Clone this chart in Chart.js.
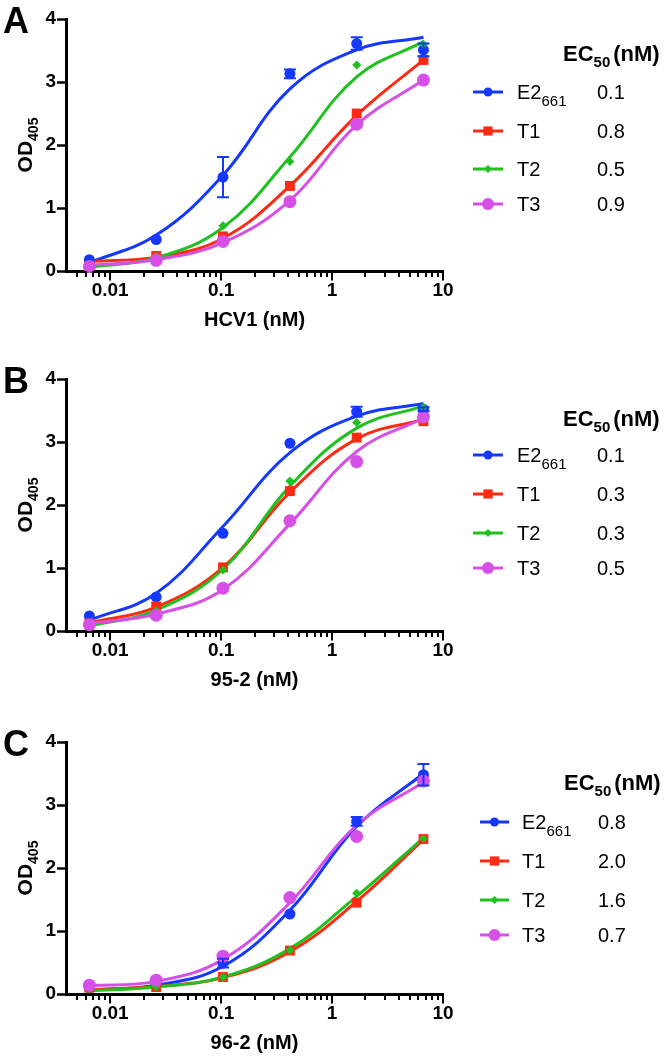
<!DOCTYPE html>
<html>
<head>
<meta charset="utf-8">
<script src="https://cdn.jsdelivr.net/npm/chart.js@4.4.1/dist/chart.umd.min.js"></script>
<style>
body { margin: 0; background: #fff; width: 666px; height: 1059px; position: relative; overflow: hidden; }
canvas { position: absolute; left: 0; }
</style>
</head>
<body>
<canvas id="chartA" width="666" height="336" style="top:0px"></canvas>
<canvas id="chartB" width="666" height="336" style="top:360px"></canvas>
<canvas id="chartC" width="666" height="336" style="top:723px"></canvas>
<script>
// DATA
const doses = [0.0065, 0.026, 0.104, 0.417, 1.667, 6.667];
const seriesNames = ['E2', 'T1', 'T2', 'T3'];
const xMajor = [0.01, 0.1, 1, 10];
const xTickLabels = ['0.01', '0.1', '1', '10'];
const yTicks = [0, 1, 2, 3, 4];

// A - HCV1
const aE2 = [0.18, 0.50, 1.49, 3.13, 3.61, 3.51];
const aE2Err = [0, 0, 0.32, 0.07, 0.10, 0.10];
const aT1 = [0.08, 0.24, 0.55, 1.35, 2.50, 3.35];
const aT2 = [0.08, 0.23, 0.72, 1.74, 3.27, 3.60];
const aT3 = [0.07, 0.17, 0.47, 1.10, 2.33, 3.03];
const aE2Fit = [0.13, 0.57, 1.52, 2.89, 3.51, 3.71];
const aT1Fit = [0.15, 0.22, 0.52, 1.35, 2.47, 3.35];
const aT2Fit = [0.06, 0.21, 0.69, 1.81, 3.08, 3.64];
const aT3Fit = [0.09, 0.18, 0.45, 1.12, 2.32, 3.03];
const aEC50 = ['0.1', '0.8', '0.5', '0.9'];

// B - 95-2
const bE2 = [0.24, 0.54, 1.55, 2.98, 3.48, 3.52];
const bE2Err = [0, 0, 0, 0, 0.08, 0.03];
const bT1 = [0.12, 0.39, 1.01, 2.22, 3.07, 3.33];
const bT2 = [0.10, 0.32, 0.97, 2.38, 3.31, 3.55];
const bT3 = [0.10, 0.25, 0.68, 1.75, 2.69, 3.40];
const bE2Fit = [0.17, 0.60, 1.66, 2.83, 3.41, 3.61];
const bT1Fit = [0.13, 0.38, 1.01, 2.20, 3.05, 3.36];
const bT2Fit = [0.08, 0.33, 0.98, 2.30, 3.22, 3.57];
const bT3Fit = [0.12, 0.27, 0.66, 1.70, 2.85, 3.38];
const bEC50 = ['0.1', '0.3', '0.3', '0.5'];

// C - 96-2
const cE2 = [0.10, 0.17, 0.49, 1.27, 2.74, 3.48];
const cE2Err = [0, 0, 0.07, 0, 0.07, 0.17];
const cT1 = [0.10, 0.11, 0.27, 0.69, 1.45, 2.46];
const cT2 = [0.08, 0.12, 0.27, 0.70, 1.60, 2.47];
const cT3 = [0.14, 0.22, 0.60, 1.53, 2.50, 3.38];
const cE2Fit = [0.06, 0.14, 0.44, 1.33, 2.66, 3.50];
const cT1Fit = [0.07, 0.12, 0.26, 0.67, 1.47, 2.45];
const cT2Fit = [0.05, 0.11, 0.27, 0.72, 1.55, 2.48];
const cT3Fit = [0.13, 0.20, 0.55, 1.45, 2.68, 3.36];
const cEC50 = ['0.8', '2.0', '1.6', '0.7'];


// STYLE
const FONT = '"Liberation Sans", Arial, Helvetica, sans-serif';
const colors = ['#1438ff', '#ff2a14', '#1fc01f', '#d64fe6'];
const markers = [
    { style: 'circle', r: 5.5 },
    { style: 'rect', r: 7 },
    { style: 'rectRot', r: 4.5 },
    { style: 'circle', r: 6.5 }
];
const legendMarkers = [4.5, 6.5, 4, 6];

// minor + major ticks for the log axis
function buildXTicks() {
    const t = [];
    for (let k = -3; k <= 1; k++) {
        for (let m = 1; m <= 9; m++) {
            const v = +(m * Math.pow(10, k)).toPrecision(6);
            if (v >= 0.005 && v <= 10) t.push(v);
        }
    }
    return t;
}
const xTicks = buildXTicks();

function drawMarker(ctx, style, r, x, y) {
    ctx.beginPath();
    if (style === 'circle') {
        ctx.arc(x, y, r, 0, Math.PI * 2);
    } else if (style === 'rect') {
        const s = r * Math.SQRT1_2;
        ctx.rect(x - s, y - s, 2 * s, 2 * s);
    } else {
        ctx.moveTo(x, y - r); ctx.lineTo(x + r, y); ctx.lineTo(x, y + r); ctx.lineTo(x - r, y);
        ctx.closePath();
    }
    ctx.fill();
}

// text with a subscript, returns width
function subText(ctx, x, y, main, sub, font, subFont, dy) {
    ctx.font = font;
    ctx.fillText(main, x, y);
    const w = ctx.measureText(main).width;
    ctx.font = subFont;
    ctx.fillText(sub, x + w, y + dy);
    return w + ctx.measureText(sub).width;
}

// PLUGIN: error bars, x ticks, titles, legend
const panelDecor = {
    id: 'panelDecor',
    afterDatasetsDraw(chart) {
        const ctx = chart.ctx, x = chart.scales.x, y = chart.scales.y;
        chart.data.datasets.forEach(ds => {
            if (!ds.errors) return;
            ctx.save();
            ctx.strokeStyle = ds.borderColor;
            ctx.lineWidth = 2;
            ds.data.forEach((p, j) => {
                const e = ds.errors[j];
                if (!e) return;
                const px = x.getPixelForValue(p.x);
                const top = y.getPixelForValue(p.y + e);
                const bot = y.getPixelForValue(p.y - e);
                ctx.beginPath();
                ctx.moveTo(px, top); ctx.lineTo(px, bot);
                ctx.moveTo(px - 6, top); ctx.lineTo(px + 6, top);
                ctx.moveTo(px - 6, bot); ctx.lineTo(px + 6, bot);
                ctx.stroke();
            });
            ctx.restore();
        });
    },
    afterDraw(chart, args, opts) {
        const ctx = chart.ctx, x = chart.scales.x, area = chart.chartArea;
        ctx.save();
        // x tick marks
        ctx.strokeStyle = '#000';
        ctx.lineWidth = 2;
        x.ticks.forEach(t => {
            const px = Math.round(x.getPixelForValue(t.value));
            const len = xMajor.includes(t.value) ? 8 : 4.5;
            ctx.beginPath();
            ctx.moveTo(px, area.bottom);
            ctx.lineTo(px, area.bottom + 1.5 + len);
            ctx.stroke();
        });
        ctx.fillStyle = '#000';
        // x title
        ctx.textAlign = 'center';
        ctx.textBaseline = 'alphabetic';
        ctx.font = 'bold 20px ' + FONT;
        ctx.fillText(opts.xTitle, (area.left + area.right) / 2, area.bottom + 55);
        // y title OD405
        ctx.save();
        ctx.translate(25, (area.top + area.bottom) / 2);
        ctx.rotate(-Math.PI / 2);
        ctx.textAlign = 'left';
        ctx.font = 'bold 21px ' + FONT;
        const w1 = ctx.measureText('OD').width;
        ctx.font = 'bold 14px ' + FONT;
        const w2 = ctx.measureText('405').width;
        subText(ctx, -(w1 + w2) / 2, 7, 'OD', '405', 'bold 21px ' + FONT, 'bold 14px ' + FONT, 6);
        ctx.restore();
        // panel letter
        ctx.textAlign = 'left';
        ctx.font = 'bold 36px ' + FONT;
        ctx.fillText(opts.letter, 3, area.top + 14);
        // legend header
        const L = opts.legend;
        const hw = subText(ctx, L.headerX, L.headerY + 8, 'EC', '50', 'bold 22px ' + FONT, 'bold 15px ' + FONT, 6);
        ctx.font = 'bold 22px ' + FONT;
        ctx.fillText('(nM)', L.headerX + hw + 3, L.headerY + 8);
        // legend rows
        seriesNames.forEach((name, i) => {
            const ry = L.rows[i];
            ctx.strokeStyle = colors[i];
            ctx.fillStyle = colors[i];
            ctx.lineWidth = 3;
            ctx.beginPath();
            ctx.moveTo(L.x0, ry); ctx.lineTo(L.x1, ry);
            ctx.stroke();
            drawMarker(ctx, markers[i].style, legendMarkers[i], (L.x0 + L.x1) / 2, ry);
            ctx.fillStyle = '#000';
            if (name === 'E2') {
                subText(ctx, L.textX, ry + 7, 'E2', '661', '20px ' + FONT, '15px ' + FONT, 7);
            } else {
                ctx.font = '20px ' + FONT;
                ctx.fillText(name, L.textX, ry + 7);
            }
            ctx.font = '20px ' + FONT;
            ctx.fillText(opts.ec50[i], L.valX, ry + 7);
        });
        ctx.restore();
    }
};

function buildPanel(id, pts, fits, errs, ec50, xTitle, letter, legend) {
    const datasets = [];
    pts.forEach((vals, i) => {
        datasets.push({
            label: seriesNames[i] + ' data',
            data: doses.map((d, j) => ({ x: d, y: vals[j] })),
            showLine: false,
            pointStyle: markers[i].style,
            pointRadius: markers[i].r,
            pointBackgroundColor: colors[i],
            pointBorderColor: colors[i],
            pointBorderWidth: 0,
            borderColor: colors[i],
            errors: i === 0 ? errs : null,
            order: 3 - i,
            clip: false
        });
    });
    fits.forEach((vals, i) => {
        datasets.push({
            label: seriesNames[i] + ' fit',
            data: doses.map((d, j) => ({ x: d, y: vals[j] })),
            borderColor: colors[i],
            borderWidth: 3,
            pointRadius: 0,
            tension: 0.4,
            fill: false,
            order: 13 - i,
            clip: false
        });
    });
    return new Chart(document.getElementById(id), {
        type: 'line',
        data: { datasets: datasets },
        options: {
            responsive: false,
            animation: false,
            events: [],
            layout: { padding: { left: 0, top: 19, right: 223, bottom: 0 } },
            plugins: {
                legend: { display: false },
                tooltip: { enabled: false },
                panelDecor: { xTitle: xTitle, letter: letter, legend: legend, ec50: ec50 }
            },
            scales: {
                x: {
                    type: 'logarithmic',
                    min: 0.004,
                    max: 10,
                    afterBuildTicks: s => { s.ticks = xTicks.map(v => ({ value: v })); },
                    afterFit: s => { s.height = 65; },
                    grid: { display: true, drawOnChartArea: false, drawTicks: true, tickLength: 8, tickColor: 'rgba(0,0,0,0)' },
                    border: { display: true, color: '#000', width: 3 },
                    ticks: {
                        autoSkip: false,
                        maxRotation: 0,
                        padding: 0,
                        color: '#000',
                        font: { family: FONT, size: 19, weight: 'bold' },
                        callback: v => {
                            const k = xMajor.indexOf(v);
                            return k >= 0 ? xTickLabels[k] : '';
                        }
                    }
                },
                y: {
                    min: 0,
                    max: 4,
                    afterBuildTicks: s => { s.ticks = yTicks.map(v => ({ value: v })); },
                    afterFit: s => { s.width = 66; },
                    grid: { display: true, drawOnChartArea: false, drawTicks: true, tickLength: 9, tickWidth: 2.5, tickColor: '#000' },
                    border: { display: true, color: '#000', width: 3 },
                    ticks: {
                        padding: 1,
                        color: '#000',
                        font: { family: FONT, size: 19, weight: 'bold' }
                    }
                }
            }
        },
        plugins: [panelDecor]
    });
}

buildPanel('chartA', [aE2, aT1, aT2, aT3], [aE2Fit, aT1Fit, aT2Fit, aT3Fit], aE2Err, aEC50, 'HCV1 (nM)', 'A',
    { headerX: 563, headerY: 53, rows: [92, 131, 169, 204], x0: 473, x1: 503, textX: 517, valX: 597 });
buildPanel('chartB', [bE2, bT1, bT2, bT3], [bE2Fit, bT1Fit, bT2Fit, bT3Fit], bE2Err, bEC50, '95-2 (nM)', 'B',
    { headerX: 563, headerY: 58, rows: [95, 134, 173, 208], x0: 473, x1: 503, textX: 517, valX: 597 });
buildPanel('chartC', [cE2, cT1, cT2, cT3], [cE2Fit, cT1Fit, cT2Fit, cT3Fit], cE2Err, cEC50, '96-2 (nM)', 'C',
    { headerX: 564, headerY: 59, rows: [99, 138, 177, 212], x0: 480, x1: 509, textX: 522, valX: 598 });
</script>
</body>
</html>
